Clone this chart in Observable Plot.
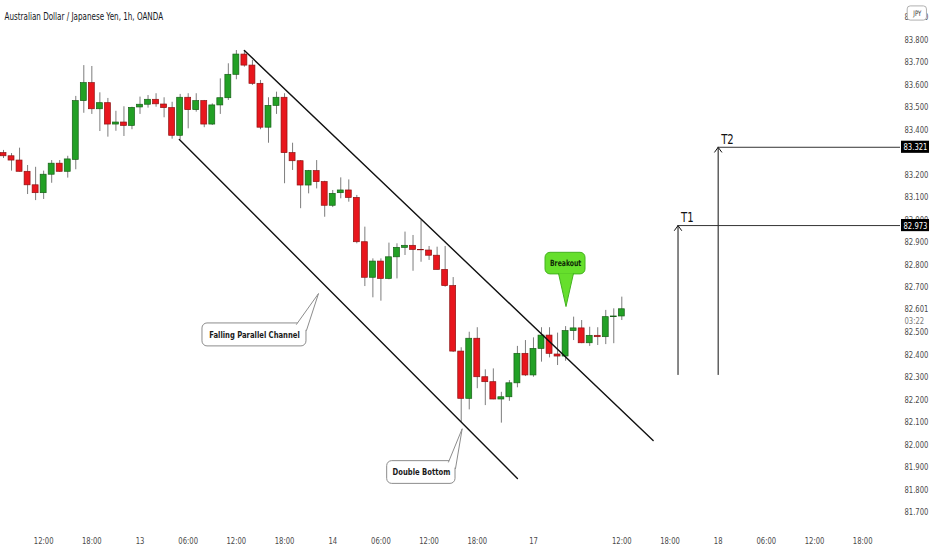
<!DOCTYPE html>
<html><head><meta charset="utf-8">
<script src="https://cdn.jsdelivr.net/npm/d3@7"></script>
<script src="https://cdn.jsdelivr.net/npm/@observablehq/plot@0.6"></script>
<style>body{margin:0;background:#fff}#chart svg{display:block}</style>
</head><body><div id="chart"></div>
<script>
// Hourly candles (index 1..78), prices in JPY
const open = [83.295,83.281,83.262,83.212,83.152,83.117,83.199,83.248,83.212,83.265,83.526,83.606,83.490,83.517,83.422,83.431,83.416,83.498,83.510,83.532,83.511,83.495,83.372,83.541,83.486,83.526,83.422,83.507,83.539,83.643,83.733,83.684,83.603,83.408,83.505,83.541,83.295,83.259,83.151,83.215,83.166,83.061,83.117,83.129,83.096,82.899,82.741,82.813,82.736,82.832,82.874,82.883,82.865,82.862,82.839,82.776,82.704,82.413,82.203,82.470,82.299,82.277,82.200,82.210,82.272,82.403,82.307,82.425,82.484,82.400,82.391,82.504,82.516,82.450,82.483,82.477,82.566,82.569];
const high = [83.307,83.293,83.317,83.240,83.232,83.215,83.262,83.262,83.281,83.547,83.684,83.680,83.563,83.538,83.481,83.501,83.499,83.544,83.551,83.559,83.541,83.521,83.556,83.559,83.559,83.529,83.514,83.625,83.692,83.751,83.751,83.707,83.618,83.541,83.566,83.559,83.339,83.262,83.218,83.262,83.170,83.129,83.185,83.176,83.107,82.966,82.825,82.825,82.895,82.892,82.944,82.929,82.996,82.880,82.877,82.880,82.742,82.430,82.499,82.519,82.332,82.336,82.232,82.284,82.436,82.462,82.474,82.519,82.519,82.495,82.524,82.566,82.551,82.521,82.519,82.596,82.603,82.655];
const low = [83.271,83.215,83.211,83.111,83.084,83.089,83.161,83.210,83.184,83.221,83.472,83.467,83.391,83.366,83.392,83.369,83.399,83.467,83.495,83.499,83.452,83.357,83.354,83.403,83.477,83.408,83.418,83.467,83.529,83.621,83.677,83.596,83.399,83.339,83.467,83.159,83.218,83.048,83.114,83.136,83.010,83.053,83.092,83.077,82.892,82.702,82.652,82.637,82.732,82.736,82.840,82.770,82.810,82.818,82.776,82.699,82.409,82.099,82.154,82.248,82.173,82.199,82.095,82.192,82.252,82.302,82.299,82.366,82.385,82.351,82.370,82.462,82.448,82.436,82.440,82.444,82.448,82.551];
const close = [83.281,83.262,83.212,83.152,83.117,83.199,83.248,83.212,83.267,83.526,83.606,83.490,83.517,83.422,83.431,83.416,83.496,83.510,83.532,83.512,83.495,83.372,83.541,83.486,83.526,83.422,83.507,83.539,83.643,83.733,83.684,83.603,83.408,83.505,83.541,83.295,83.259,83.151,83.215,83.166,83.061,83.114,83.129,83.096,82.899,82.741,82.813,82.736,82.832,82.874,82.883,82.865,82.863,82.839,82.776,82.704,82.413,82.203,82.470,82.299,82.277,82.200,82.210,82.272,82.403,82.307,82.425,82.484,82.403,82.391,82.504,82.516,82.450,82.483,82.477,82.566,82.569,82.601];

// time axis (candle index -> label)
const xTickIndex = [6,12,18,24,30,36,42,48,54,60,67,78,84,90,96,102,108];
const xTickLabel = ["12:00","18:00","13","06:00","12:00","18:00","14","06:00","12:00","18:00","17","12:00","18:00","18","06:00","12:00","18:00"];
const yTicks = [83.9,83.8,83.7,83.6,83.5,83.4,83.2,83.1,83.0,82.9,82.8,82.7,82.5,82.4,82.3,82.2,82.1,82.0,81.9,81.8,81.7];

// channel lines (candle index, price)
const upperChannel = [{i:31.0,p:83.751},{i:81.9,p:82.018}];
const lowerChannel = [{i:22.9,p:83.356},{i:65.0,p:81.849}];

// targets
const targets = [{name:"T1",i:85,base:82.311,p:82.973},{name:"T2",i:90,base:82.311,p:83.321}];

// callouts
const channelBox = [{x1:25.78,x2:38.73,y1:82.436,y2:82.538,label:"Falling Parallel Channel",cx:32.26,cy:82.487}];
const channelPtr = [{i:37.49,p:82.534},{i:40.23,p:82.671},{i:38.73,p:82.507}];
const bottomBox = [{x1:48.78,x2:57.29,y1:81.825,y2:81.926,label:"Double Bottom",cx:53.05,cy:81.876}];
const bottomPtr = [{i:56.42,p:81.922},{i:58.12,p:82.070},{i:57.29,p:81.893}];
const breakoutBox = [{x1:68.5,x2:73.48,y1:82.756,y2:82.852,label:"Breakout",cx:71.0,cy:82.805}];
const breakoutPtr = [{i:70.12,p:82.760},{i:71.05,p:82.613},{i:71.98,p:82.760}];

const lastPrice = 82.601;
const countdown = "03:22";
const currency = "JPY";
const title = "Australian Dollar / Japanese Yen, 1h, OANDA";

const candles = open.map((o,k)=>({i:k+1,o,h:high[k],l:low[k],c:close[k]}));
const up = candles.filter(d=>d.c>=d.o), down = candles.filter(d=>d.c<d.o);

const xMin = 0.6264, xMax = 112.706;
const axisX = 113.2;          // label column of price scale
const font = "'DejaVu Sans Condensed','DejaVu Sans',sans-serif";
const hw = 0.37;
const squeeze = 0.8;          // horizontal text condensation

const chart = Plot.plot({
  width:932, height:550, marginLeft:0, marginRight:32, marginTop:0, marginBottom:22,
  style:{fontFamily:font, background:"#fff", color:"#222"},
  x:{type:"linear", domain:[xMin,xMax], axis:null},
  y:{domain:[81.6267,83.9733], axis:null},
  marks:[
    Plot.axisX({ticks:xTickIndex, tickFormat:d=>xTickLabel[xTickIndex.indexOf(d)], tickSize:0, tickPadding:9, fontSize:9.5, fill:"#4a4a4a"}),
    Plot.axisY({anchor:"right", ticks:yTicks, tickFormat:d=>d.toFixed(3), tickSize:0, tickPadding:4, fontSize:9.5, fill:"#4a4a4a"}),
    // wicks
    Plot.ruleX(candles, {x:"i", y1:"l", y2:"h", stroke:"#7d7d7d", strokeWidth:1}),
    // bodies
    Plot.rect(up, {x1:d=>d.i-hw, x2:d=>d.i+hw, y1:"o", y2:"c", fill:"#22a025", stroke:"#175f17", strokeWidth:0.7}),
    Plot.rect(down, {x1:d=>d.i-hw, x2:d=>d.i+hw, y1:"o", y2:"c", fill:"#e8161d", stroke:"#8e1212", strokeWidth:0.7}),
    // channel
    Plot.line(upperChannel, {x:"i", y:"p", stroke:"#111", strokeWidth:1.4}),
    Plot.line(lowerChannel, {x:"i", y:"p", stroke:"#111", strokeWidth:1.4}),
    // callouts
    Plot.rect(channelBox, {x1:"x1", x2:"x2", y1:"y1", y2:"y2", rx:5, fill:"#fff", stroke:"#8c8c8c", strokeWidth:1}),
    Plot.line(channelPtr, {x:"i", y:"p", fill:"#fff", stroke:"#8c8c8c", strokeWidth:1}),
    Plot.text(channelBox, {x:"cx", y:"cy", text:"label", fontSize:9.5, fontWeight:"bold", fill:"#1a1a1a"}),
    Plot.rect(bottomBox, {x1:"x1", x2:"x2", y1:"y1", y2:"y2", rx:5, fill:"#fff", stroke:"#8c8c8c", strokeWidth:1}),
    Plot.line(bottomPtr, {x:"i", y:"p", fill:"#fff", stroke:"#8c8c8c", strokeWidth:1}),
    Plot.text(bottomBox, {x:"cx", y:"cy", text:"label", fontSize:9.5, fontWeight:"bold", fill:"#1a1a1a"}),
    Plot.rect(breakoutBox, {x1:"x1", x2:"x2", y1:"y1", y2:"y2", rx:5, fill:"#66df2c", stroke:"#43b21f", strokeWidth:1}),
    Plot.line(breakoutPtr, {x:"i", y:"p", fill:"#66df2c", stroke:"#43b21f", strokeWidth:1}),
    Plot.text(breakoutBox, {x:"cx", y:"cy", text:"label", fontSize:8.5, fontWeight:"bold", fill:"#0e2a06"}),
    // targets
    Plot.arrow(targets, {x1:"i", x2:"i", y1:"base", y2:"p", headAngle:72, headLength:9, stroke:"#111", strokeWidth:1}),
    Plot.ruleY(targets, {y:"p", x1:"i", x2:()=>xMax, stroke:"#333", strokeWidth:1}),
    Plot.text(targets, {x:"i", y:"p", text:"name", dx:3, dy:-8, textAnchor:"start", fontSize:14, fill:"#111"}),
    Plot.rect(targets, {x1:()=>112.83, x2:()=>116.32, y1:d=>d.p-0.027, y2:d=>d.p+0.027, fill:"#000"}),
    Plot.text(targets, {x:()=>114.57, y:"p", text:d=>d.p.toFixed(3), fontSize:9.5, fill:"#fff"}),
    // last price + countdown
    Plot.text([lastPrice], {x:()=>axisX, y:d=>d, text:d=>d.toFixed(3), textAnchor:"start", fontSize:9.5, fill:"#4a4a4a"}),
    Plot.text([lastPrice], {x:()=>axisX, y:d=>d, text:()=>countdown, dy:12, textAnchor:"start", fontSize:9.5, fill:"#777"}),
    // currency badge
    Plot.rect([currency], {x1:()=>113.6, x2:()=>116.0, y1:()=>83.884, y2:()=>83.947, rx:3, fill:"#fff", stroke:"#b0b0b0"}),
    Plot.text([currency], {x:()=>114.8, y:()=>83.916, text:d=>d, fontSize:7.5, fill:"#333"}),
    // title
    Plot.text([title], {frameAnchor:"top-left", dx:4, dy:12, text:d=>d, textAnchor:"start", fontSize:10, fontWeight:500, fill:"#131722"})
  ]
});
// condense all text horizontally (narrow UI font look), keeping em-based offsets
d3.select(chart).selectAll("text").each(function(){
  const t = this.getAttribute("transform");
  if (t) {
    this.setAttribute("transform", `${t} scale(${squeeze},1)`);
  } else {
    const x = parseFloat(this.getAttribute("x")) || 0;
    this.setAttribute("transform", `translate(${x},0) scale(${squeeze},1)`);
    this.removeAttribute("x");
  }
});
document.getElementById("chart").append(chart);
</script></body></html>
